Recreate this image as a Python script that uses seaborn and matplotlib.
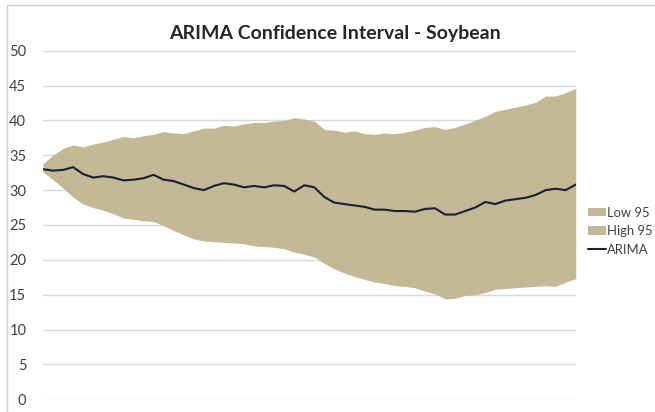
import numpy as np
import pandas as pd
import matplotlib
matplotlib.use("Agg")
import matplotlib.pyplot as plt
from matplotlib.patches import Patch, Rectangle
from matplotlib.lines import Line2D
import seaborn as sns

# Forecast horizon (periods) and the ARIMA point forecast with its 95% bounds
period = list(range(54))
arima = [33.0, 32.8, 32.9, 33.3, 32.3, 31.8, 32.0, 31.8, 31.4, 31.5,
         31.7, 32.2, 31.5, 31.3, 30.8, 30.3, 30.0, 30.6, 31.0, 30.8,
         30.4, 30.6, 30.4, 30.7, 30.6, 29.8, 30.7, 30.4, 29.0, 28.2,
         28.0, 27.8, 27.6, 27.2, 27.2, 27.0, 27.0, 26.9, 27.3, 27.4,
         26.5, 26.5, 27.0, 27.5, 28.3, 28.0, 28.5, 28.7, 28.9, 29.3,
         30.0, 30.2, 30.0, 30.8]
high95 = [33.8, 35.0, 36.0, 36.5, 36.2, 36.6, 36.9, 37.3, 37.7, 37.5,
          37.8, 38.0, 38.4, 38.2, 38.1, 38.5, 38.9, 38.9, 39.3, 39.2,
          39.5, 39.7, 39.7, 39.9, 40.0, 40.4, 40.2, 39.9, 38.7, 38.6,
          38.3, 38.5, 38.1, 38.0, 38.2, 38.1, 38.3, 38.6, 39.0, 39.1,
          38.7, 39.0, 39.5, 40.0, 40.6, 41.3, 41.6, 41.9, 42.2, 42.6,
          43.5, 43.5, 44.0, 44.6]
low95 = [32.6, 31.5, 30.3, 29.0, 28.0, 27.5, 27.1, 26.6, 26.0, 25.8,
         25.6, 25.5, 24.9, 24.2, 23.6, 23.0, 22.7, 22.6, 22.5, 22.4,
         22.3, 22.0, 21.9, 21.8, 21.6, 21.1, 20.8, 20.4, 19.5, 18.7,
         18.1, 17.6, 17.2, 16.8, 16.6, 16.3, 16.2, 16.0, 15.5, 15.1,
         14.4, 14.5, 14.9, 15.0, 15.3, 15.8, 15.9, 16.0, 16.1, 16.2,
         16.3, 16.2, 16.8, 17.3]
y_ticks = [0, 5, 10, 15, 20, 25, 30, 35, 40, 45, 50]

df = pd.DataFrame({"period": period, "ARIMA": arima,
                   "High 95": high95, "Low 95": low95})

band_color = "#c4b996"
line_color = "#1a2033"
grid_color = "#d9d9d9"
text_color = "#404040"

sns.set_theme(style="white")
plt.rcParams["font.family"] = ["Lato", "DejaVu Sans"]

fig = plt.figure(figsize=(6.55, 4.12), dpi=100)
ax = fig.add_axes([0.0656, 0.0308, 0.8134, 0.8462])

# chart-area border
fig.patches.append(Rectangle((7 / 655, -0.02), 1.0, 1 - 5 / 412 + 0.02,
                             transform=fig.transFigure, fill=False,
                             edgecolor="#d0d0d0", linewidth=1.0))

ax.fill_between(df["period"], df["Low 95"], df["High 95"],
                color=band_color, linewidth=0, zorder=2)
sns.lineplot(data=df, x="period", y="ARIMA", ax=ax, color=line_color,
             linewidth=1.5, zorder=3)

ax.set_xlim(period[0], period[-1])
ax.set_ylim(y_ticks[0], y_ticks[-1])
ax.set_yticks(y_ticks)
ax.set_xticks([])
ax.set_xlabel("")
ax.set_ylabel("")
ax.yaxis.grid(True, color=grid_color, linewidth=1.0, zorder=0)
ax.set_axisbelow(True)
for s in ax.spines.values():
    s.set_visible(False)
ax.tick_params(axis="y", length=0, pad=12, labelsize=10.5, labelcolor=text_color)

fig.text(0.512, 0.918, "ARIMA Confidence Interval - Soybean",
         ha="center", va="center", fontsize=14, fontweight="bold",
         color="#262626")

handles = [Patch(facecolor=band_color, edgecolor="none", label="Low 95"),
           Patch(facecolor=band_color, edgecolor="none", label="High 95"),
           Line2D([0], [0], color=line_color, linewidth=1.5, label="ARIMA")]
fig.legend(handles=handles, loc="center left",
           bbox_to_anchor=(0.898, 0.439), frameon=False,
           fontsize=9.4, labelcolor=text_color, handlelength=1.35,
           handleheight=0.6, handletextpad=0.1, labelspacing=0.5,
           borderaxespad=0, borderpad=0)

fig.savefig("out.png", dpi=100)
